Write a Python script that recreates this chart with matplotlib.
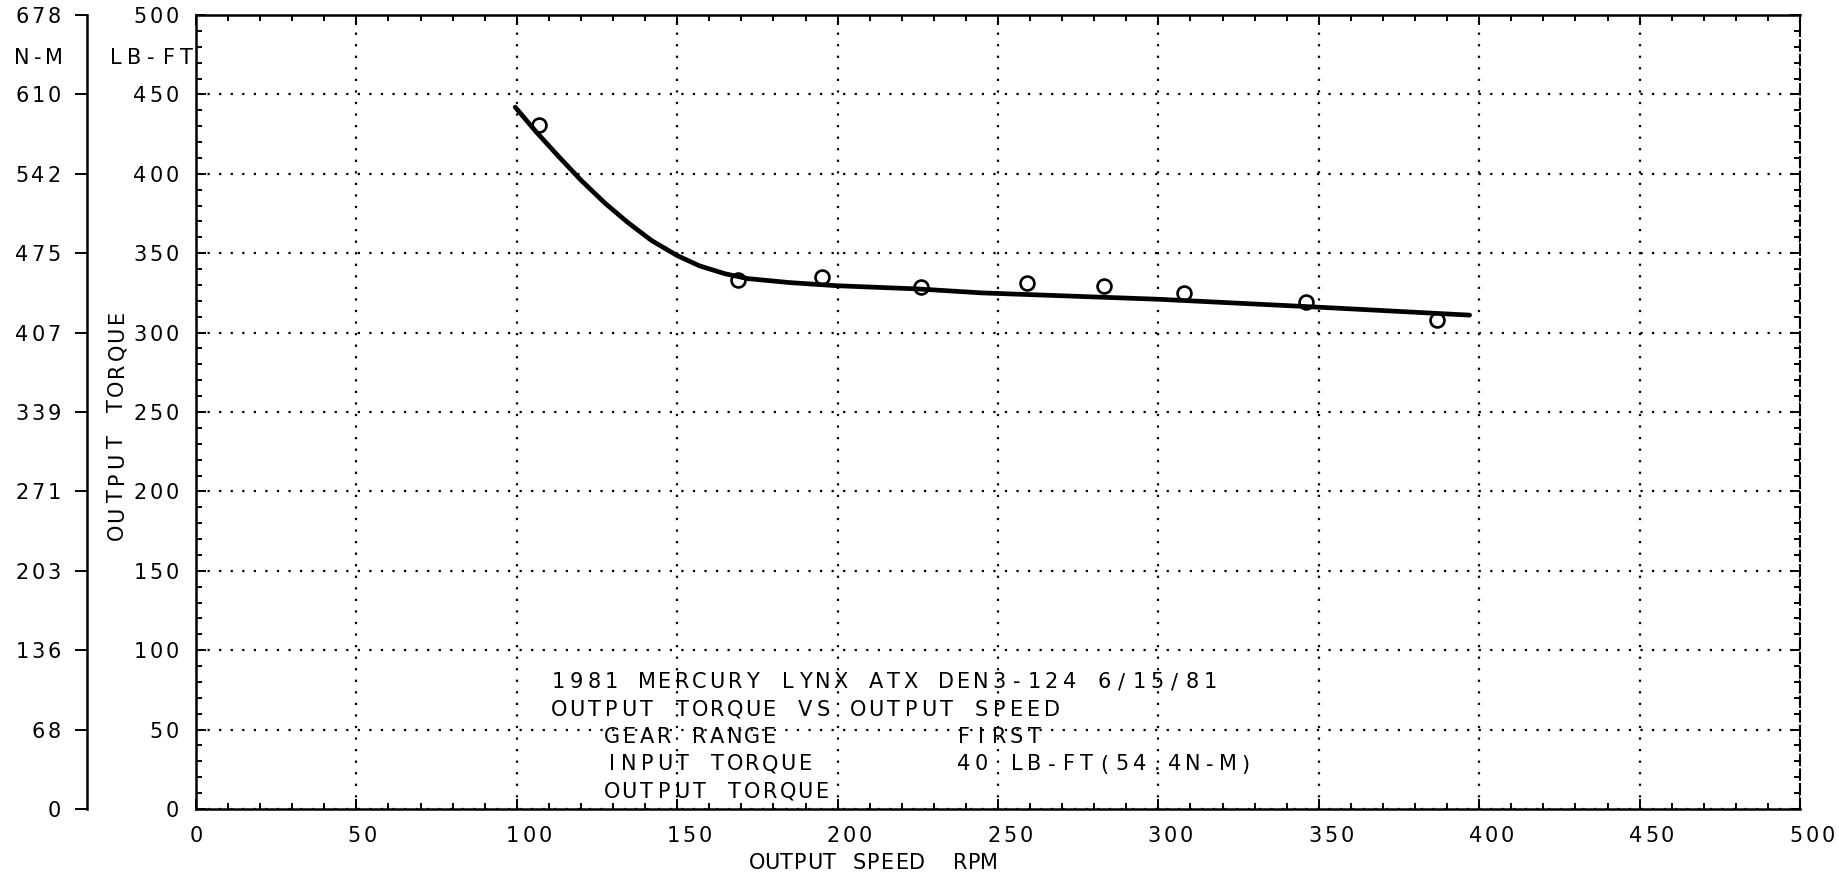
import matplotlib
matplotlib.use("Agg")
import matplotlib.pyplot as plt
import matplotlib.transforms as mtransforms
from matplotlib.ticker import MultipleLocator

# ============================
# Data
# ============================
rpm_points = [107, 169, 195, 226, 259, 283, 308, 346, 387]
torque_points = [431, 333, 335, 328.5, 331.5, 329.5, 325, 319.5, 308]

rpm_curve = [99.5, 106, 113, 120, 127.5, 134.5, 142, 150, 157, 165, 172, 185, 200, 225, 245, 300, 350, 397]
torque_curve = [442, 426.5, 411, 396, 381.5, 369.5, 358, 348.5, 342, 337, 334, 331.5, 329.5, 327.5, 325, 321, 316, 311]

x_ticks = [0, 50, 100, 150, 200, 250, 300, 350, 400, 450, 500]
x_tick_labels = ["0", "50", "100", "150", "200", "250", "300", "350", "400", "450", "500"]
y_ticks = [0, 50, 100, 150, 200, 250, 300, 350, 400, 450, 500]
y_tick_labels = ["0", "50", "100", "150", "200", "250", "300", "350", "400", "450", "500"]
nm_tick_labels = ["0", "68", "136", "203", "271", "339", "407", "475", "542", "610", "678"]

note_lines = [
    "1981 MERCURY LYNX ATX DEN3-124 6/15/81",
    "OUTPUT TORQUE VS OUTPUT SPEED",
    "   GEAR RANGE          FIRST",
    "   INPUT TORQUE        40 LB-FT(54.4N-M)",
    "   OUTPUT TORQUE",
]

# ============================
# Figure / axes
# ============================
W, H, DPI = 1840, 878, 100
FS = 15
plt.rcParams["font.family"] = ["DejaVu Sans"]

fig = plt.figure(figsize=(W / DPI, H / DPI), dpi=DPI)
ax = fig.add_axes([196 / W, 1 - 810 / H, 1604 / W, 794 / H])

# pixel coords from the top-left corner of the figure
top_px = mtransforms.Affine2D().scale(1 / DPI, -1 / DPI).translate(0, H / DPI) + fig.dpi_scale_trans


def shift(dx, dy):
    # dx right, dy down, in pixels
    return mtransforms.ScaledTranslation(dx / DPI, -dy / DPI, fig.dpi_scale_trans)


def plotter_text(x, y, s, trans, pitch, align="left", dx=0, dy=0, vertical=False):
    # fixed-pitch, wide-spaced lettering like the pen plotter
    n = len(s)
    start = {"left": 0.5, "right": 0.5 - n, "center": 0.5 - n / 2}[align]
    for i, ch in enumerate(s):
        if ch == " ":
            continue
        k = (start + i) * pitch
        if vertical:
            fig.text(x, y, ch, transform=trans + shift(dx, dy - k), rotation=90,
                     ha="center", va="center", fontsize=FS, color="black")
        else:
            fig.text(x, y, ch, transform=trans + shift(dx + k, dy),
                     ha="center", va="baseline", fontsize=FS, color="black")


ax.set_xlim(0, 500)
ax.set_ylim(0, 500)
ax.set_xticks(x_ticks)
ax.set_yticks(y_ticks)
ax.set_xticklabels([])
ax.set_yticklabels([])
ax.xaxis.set_minor_locator(MultipleLocator(10))
ax.yaxis.set_minor_locator(MultipleLocator(10))
ax.tick_params(which="both", direction="in", top=True, right=True, width=1.4, color="black")
ax.tick_params(which="major", length=7)
ax.tick_params(which="minor", length=4.5)
ax.grid(True, which="major", color="black", linestyle=(0, (1, 4.2)), linewidth=1.6)
for side in ["left", "bottom", "top"]:
    ax.spines[side].set_linewidth(1.8)
ax.spines["right"].set_linewidth(1.5)
ax.spines["right"].set_linestyle((0, (5, 2)))

# curve + measured points
ax.plot(rpm_curve, torque_curve, color="black", lw=3.4,
        solid_capstyle="round", solid_joinstyle="round", zorder=3)
ax.plot(rpm_points, torque_points, "o", mfc="none", mec="black", ms=10, mew=1.9, zorder=4)

# tick labels
xb = mtransforms.blended_transform_factory(ax.transData, ax.transAxes)
yb = mtransforms.blended_transform_factory(ax.transAxes, ax.transData)
for v, lab in zip(x_ticks, x_tick_labels):
    plotter_text(v, 0, lab, xb, 16, "center", dx=6 * (len(lab) - 1), dy=32)
for v, lab in zip(y_ticks, y_tick_labels):
    plotter_text(0, v, lab, yb, 16, "right", dx=-16, dy=7)
plotter_text(0, 500, "LB-FT", yb, 17.5, "right", dx=-1, dy=48)

# ============================
# Secondary N-M scale
# ============================
nm = fig.add_axes([87 / W, 1 - 810 / H, 0.0005, 794 / H])
nm.set_ylim(0, 500)
nm.set_yticks(y_ticks)
nm.set_yticklabels([])
nm.set_xticks([])
nm.patch.set_visible(False)
for side in ["top", "right", "bottom"]:
    nm.spines[side].set_visible(False)
nm.spines["left"].set_linewidth(1.8)
nm.tick_params(axis="y", direction="out", length=8.6, width=1.4)
for v, lab in zip(y_ticks, nm_tick_labels):
    plotter_text(0, v, lab, yb, 16, "right", dx=-134, dy=7)
plotter_text(0, 500, "N-M", yb, 16, "right", dx=-134, dy=48)

# axis titles
plotter_text(750, 869, "OUTPUT SPEED  RPM", top_px, 14.5, "left")
plotter_text(117, 541, "OUTPUT TORQUE", top_px, 18, "left", vertical=True)

# annotation block
for i, line in enumerate(note_lines):
    plotter_text(550, 688 + i * 27.5, line, top_px, 17.6, "left")

fig.savefig("out.png", dpi=DPI)
